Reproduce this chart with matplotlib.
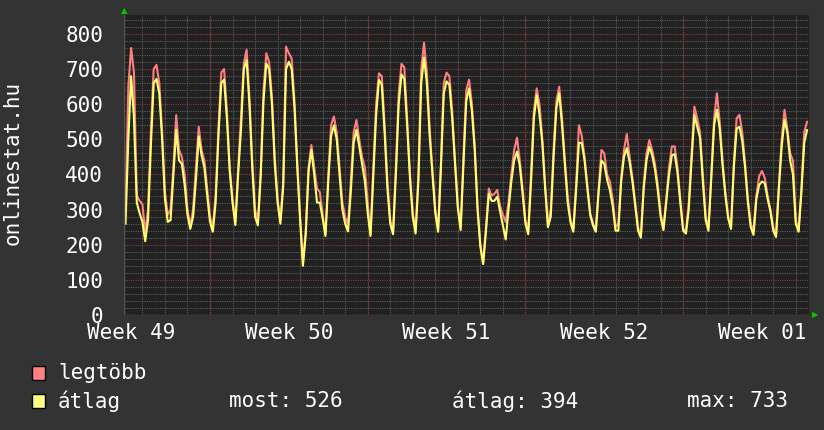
import matplotlib
matplotlib.use("Agg")
import matplotlib.pyplot as plt
from matplotlib.patches import Rectangle
from matplotlib.ticker import MultipleLocator
import numpy as np

# 3-hourly samples, first one on Thursday 06:00 of week 49
# (time is counted in days from Monday 00:00 of week 50)
start_day = -3.75
step_days = 0.125

legtobb = [
    300, 650, 760, 690, 340, 325, 315, 235, 300, 520,
    700, 712, 660, 520, 350, 285, 300, 420, 569, 470,
    450, 400, 300, 255, 300, 420, 536, 470, 440, 360,
    280, 250, 340, 530, 690, 700, 580, 420, 330, 265,
    420, 560, 716, 755, 620, 440, 300, 265, 403, 640,
    745, 720, 620, 450, 330, 270, 380, 764, 745, 730,
    610, 430, 280, 150, 240, 420, 484, 420, 360, 350,
    285, 230, 400, 540, 565, 520, 420, 320, 280, 255,
    380, 520, 555, 500, 450, 420, 320, 230, 420, 600,
    688, 680, 540, 380, 270, 235, 420, 630, 715, 705,
    560, 400, 290, 240, 400, 700, 775, 690, 530, 410,
    300, 245, 430, 660, 690, 680, 580, 440, 310, 250,
    450, 640, 670, 600, 480, 310, 200, 150, 250, 360,
    340, 345, 356, 310, 285, 265, 320, 400, 470, 505,
    440, 360, 270, 240, 400, 580, 645, 600, 500, 370,
    260, 300, 470, 610, 650, 560, 440, 340, 270, 245,
    370, 540, 510, 450, 370, 290, 260, 245, 360, 470,
    460, 400, 380, 330, 250, 260, 390, 470, 515, 450,
    390, 320, 250, 225, 370, 460, 498, 470, 430, 370,
    290, 245, 330, 420, 480, 480, 420, 330, 245, 240,
    320, 460, 593, 560, 520, 400, 280, 250, 400, 560,
    631, 550, 440, 350, 280, 250, 430, 560, 570, 520,
    430, 330, 260, 240, 340, 395, 410, 390, 340, 300,
    250, 230, 370, 500, 584, 530, 460, 440, 270, 240,
    360, 520, 550,
]

atlag = [
    260, 500, 680, 560, 320, 290, 265, 210, 270, 480,
    660, 672, 630, 500, 330, 265, 270, 400, 527, 440,
    430, 370, 285, 245, 280, 384, 508, 455, 420, 340,
    265, 237, 320, 510, 660, 670, 560, 410, 320, 256,
    400, 527, 700, 726, 600, 420, 280, 255, 395, 610,
    716, 700, 600, 430, 320, 260, 365, 700, 721, 700,
    590, 420, 270, 140, 230, 410, 470, 400, 320, 320,
    275, 225, 380, 510, 540, 500, 400, 300, 260, 238,
    350, 490, 527, 480, 430, 380, 290, 225, 400, 570,
    669, 655, 520, 360, 260, 230, 400, 600, 685, 672,
    540, 390, 280, 232, 380, 660, 733, 660, 510, 400,
    290, 237, 420, 630, 665, 655, 560, 430, 305, 242,
    430, 610, 645, 580, 470, 300, 195, 145, 240, 345,
    325, 325, 337, 295, 255, 215, 300, 380, 440, 465,
    425, 345, 260, 230, 380, 560, 626, 570, 490, 360,
    250, 280, 450, 590, 631, 540, 430, 320, 265, 237,
    355, 490, 490, 440, 360, 285, 255, 237, 350, 440,
    430, 385, 355, 310, 240, 240, 380, 450, 475, 435,
    380, 310, 240, 220, 360, 440, 479, 455, 415, 355,
    280, 242, 320, 400, 455, 458, 405, 320, 240, 232,
    300, 440, 569, 536, 505, 380, 270, 240, 390, 540,
    584, 530, 425, 340, 275, 245, 420, 530, 536, 495,
    420, 320, 250, 228, 330, 370, 380, 375, 330, 295,
    240, 222, 360, 480, 555, 520, 440, 400, 260, 237,
    350, 490, 526,
]

week_labels = ["Week 49", "Week 50", "Week 51", "Week 52", "Week 01"]
week_starts = [-7, 0, 7, 14, 21]  # Mondays, days from week 50 start

t = start_day + step_days * np.arange(len(legtobb))

bg = "#333333"
canvas = "#212121"
mono = "DejaVu Sans Mono"
fs = 15

fig = plt.figure(figsize=(8.24, 4.30), dpi=100, facecolor=bg)
ax = fig.add_axes([124 / 824, 115 / 430, 685 / 824, 300 / 430])
ax.set_facecolor(canvas)

ax.plot(t, legtobb, color="#ff8080", lw=1.5, zorder=3)
ax.plot(t, atlag, color="#ffff70", lw=1.5, zorder=4)

ax.set_xlim(-3.817, 26.587)
ax.set_ylim(0, 854)

# grid: dotted, gray minor and red major
dots = (0, (1, 1))
ax.yaxis.set_major_locator(MultipleLocator(100))
ax.yaxis.set_minor_locator(MultipleLocator(20))
ax.xaxis.set_minor_locator(MultipleLocator(1))
ax.set_xticks([w + 3.5 for w in week_starts])
ax.set_xticklabels(week_labels)
ax.grid(which="minor", color="#5c5c5c", lw=0.8, ls=dots, zorder=1)
ax.grid(which="major", axis="y", color="#8a3a3a", lw=0.8, ls=dots, zorder=2)
for w in week_starts:
    ax.axvline(w, color="#8a3a3a", lw=0.8, ls=dots, zorder=2)
ax.set_axisbelow(True)

ax.tick_params(axis="both", which="both", colors="#ffffff", labelsize=fs,
               length=0)
ax.tick_params(axis="y", pad=15)
ax.tick_params(axis="x", pad=6)
for lab in ax.get_xticklabels() + ax.get_yticklabels():
    lab.set_family(mono)

for s in ax.spines.values():
    s.set_visible(False)
ax.axhline(0, color="#555555", lw=1, zorder=5)
ax.axvline(-3.817, color="#555555", lw=1, zorder=5)

fig.text(13 / 824, 1 - 163 / 430, "onlinestat.hu", family=mono, fontsize=fs,
         color="#ffffff", rotation=90, ha="center", va="center")

# green arrows at the axis ends
fig.text(124 / 824, 1 - 11 / 430, "\u25b2", color="#00cc00", fontsize=6,
         ha="center", va="center")
fig.text(815 / 824, 1 - 315 / 430, "\u25b6", color="#00cc00", fontsize=6,
         ha="center", va="center")

# legend rows
rows = [("legtöbb", "#ff8080", 373), ("átlag", "#ffff80", 401)]
for name, col, y in rows:
    fig.patches.append(Rectangle((32 / 824, 1 - (y + 7) / 430), 13 / 824, 14 / 430,
                                 transform=fig.transFigure, facecolor=col,
                                 edgecolor="#000000", lw=1))
    fig.text(58 / 824, 1 - y / 430, name, family=mono, fontsize=fs,
             color="#ffffff", va="center")

stats = [("most: 526", 229), ("átlag: 394", 452), ("max: 733", 687)]
for txt, x in stats:
    fig.text(x / 824, 1 - 401 / 430, txt, family=mono, fontsize=fs,
             color="#ffffff", va="center")

fig.savefig("out.png", dpi=100, facecolor=bg)
